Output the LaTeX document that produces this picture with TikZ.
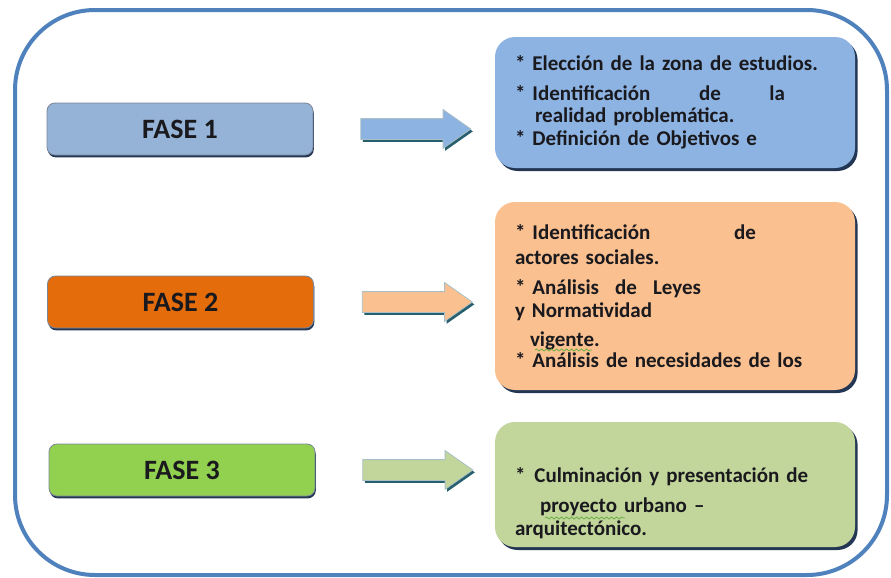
\documentclass[tikz,border=0pt]{standalone}
\usepackage{fontspec}
\setmainfont{Carlito}
\usetikzlibrary{shapes.arrows, shadows, positioning, decorations.pathmorphing}
\definecolor{frameblue}{RGB}{79,129,189}
\definecolor{faseblue}{RGB}{149,179,215}
\definecolor{faseorange}{RGB}{228,108,10}
\definecolor{fasegreen}{RGB}{146,208,80}
\definecolor{boxblue}{RGB}{141,179,226}
\definecolor{boxpeach}{RGB}{250,192,143}
\definecolor{boxolive}{RGB}{194,214,155}
\definecolor{cDark}{RGB}{35,55,85}
\definecolor{tealshade}{RGB}{40,95,110}
\definecolor{spellgreen}{RGB}{110,175,70}
\definecolor{textdark}{RGB}{25,25,30}
\tikzset{
  fasebox/.style={rectangle,rounded corners=4pt,draw=cDark!60,line width=0.4pt,minimum width=133pt,minimum height=26pt,
    font=\fontsize{14}{16}\selectfont\bfseries,text=textdark,
    drop shadow={shadow xshift=0.4pt,shadow yshift=-1.2pt,fill=cDark,opacity=1}},
  detbox/.style={rectangle,rounded corners=10pt,minimum width=180pt,text width=160pt,align=left,
    font=\fontsize{10.5}{11.5}\selectfont\bfseries,text=textdark,
    drop shadow={shadow xshift=1.3pt,shadow yshift=-1.5pt,fill=cDark,opacity=1}},
  dettext/.style={text width=160pt,align=left,font=\fontsize{10.5}{11.5}\selectfont\bfseries,text=textdark},
  blockarr/.style={single arrow,single arrow head extend=4.5pt,single arrow tip angle=70,
    minimum height=55pt,minimum width=19pt,inner xsep=0pt,inner ysep=5pt,draw=white!60!tealshade,line width=0.4pt,
    drop shadow={shadow xshift=1pt,shadow yshift=-1.2pt,fill=tealshade,opacity=1}},
  spellwave/.style={draw=spellgreen,line width=0.4pt,decorate,decoration={snake,amplitude=0.5pt,segment length=2.5pt}},
  outerframe/.style={draw=frameblue,line width=2pt,rounded corners=40pt}
}

\begin{document}
\begin{tikzpicture}[x=0.5pt,y=-0.5pt]
  \useasboundingbox (0,0) rectangle (891,578);
  %% outer frame
  \draw[outerframe] (15,10) rectangle (887,575);

  %% phases
  \node[fasebox,fill=faseblue] (f1) at (180,129) {FASE 1};
  \node[fasebox,fill=faseorange] (f2) at (180.5,302) {FASE 2};
  \node[fasebox,fill=fasegreen] (f3) at (182,470) {FASE 3};

  %% arrows
  \node[blockarr,fill=boxblue,right=23.5pt of f1] (a1) {};
  \node[blockarr,fill=boxpeach,right=24pt of f2] (a2) {};
  \node[blockarr,fill=boxolive,right=23.5pt of f3] (a3) {};

  %% details of each phase
  \node[detbox,fill=boxblue,minimum height=65.5pt] (d1) at (675,102.5)
    {* Elección de la zona de estudios.\\[3.5pt]
     \makebox[135pt][l]{* Identificación\hfill de\hfill la}\\[-0.5pt]
     \hspace*{10pt}realidad problemática.\\[0pt]
     * Definición de Objetivos e};
  \node[detbox,fill=boxpeach,minimum height=94pt] (d2) at (675,296)
    {\makebox[120.5pt][l]{* Identificación\hfill de}\\[1pt]
     actores sociales.\\[3.5pt]
     \makebox[93pt][l]{* Análisis\hfill de\hfill Leyes}\\[0pt]
     y Normatividad\\[3pt]
     \hspace*{7.5pt}vigente.\\[-1pt]
     * Análisis de necesidades de los};
  \node[detbox,fill=boxolive,minimum height=62.5pt] (d3) at (675,484.5) {};
  \node[dettext] (t3) at (675,503.5)
    {*\hspace{4.5pt}Culminación y presentación de\\[3.5pt]
     \hspace*{12.5pt}proyecto urbano –\\[0pt]
     arquitectónico.};

  %% spell-check marks
  \draw[spellwave] (535,350) -- (592,350);
  \draw[spellwave] (545,518) -- (625,518);
\end{tikzpicture}
\end{document}
